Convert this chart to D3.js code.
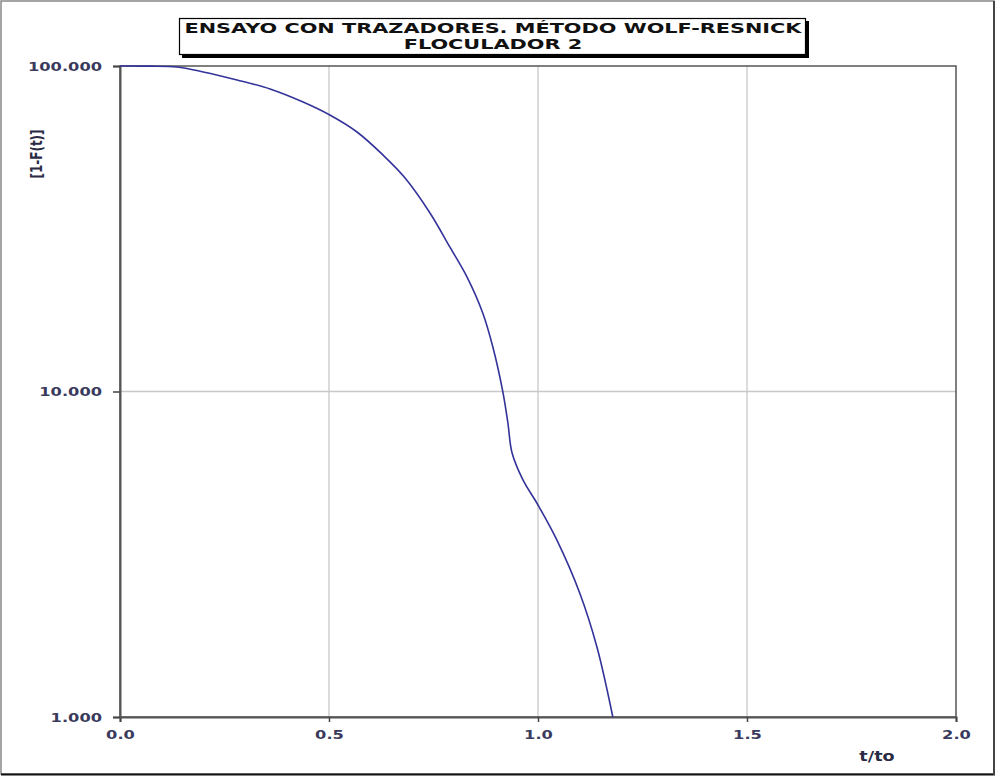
<!DOCTYPE html>
<html><head><meta charset="utf-8">
<script src="https://cdn.jsdelivr.net/npm/d3@7"></script>
<style>body{margin:0;background:#fff}svg{display:block}text{font-family:"DejaVu Sans",Verdana,sans-serif}</style>
</head><body>
<svg id="c" width="996" height="777"></svg>
<script>
const tValues = [0, 0.07, 0.136, 0.199, 0.28, 0.359, 0.438, 0.502, 0.567, 0.629, 0.682, 0.742, 0.789, 0.83, 0.868, 0.892, 0.916, 0.928, 0.938, 0.964, 1.0, 1.045, 1.10, 1.141, 1.179];
const fValues = [100, 99.9, 99.3, 95.9, 90.6, 85.0, 77.5, 70.7, 62.7, 53.3, 45.3, 35.3, 27.8, 22.5, 17.4, 13.7, 9.96, 8.0, 6.47, 5.35, 4.48, 3.50, 2.40, 1.64, 1.0];
const xTicks = [0, 0.5, 1.0, 1.5, 2.0];
const yTicks = [1, 10, 100];
const titleLines = ["ENSAYO CON TRAZADORES. MÉTODO WOLF-RESNICK", "FLOCULADOR 2"];
const xLabel = "t/to";
const yLabel = "[1-F(t)]";

const STRETCH = 1.3; // horizontal text stretch of the reference
function stretch(sel, k) {
  sel.each(function() {
    const len = this.getComputedTextLength();
    d3.select(this).attr("textLength", len * k).attr("lengthAdjust", "spacingAndGlyphs");
  });
}

const svg = d3.select("#c");
const L = 120, R = 956, T = 66, B = 717;
const x = d3.scaleLinear().domain([0, 2]).range([L, R]);
const y = d3.scaleLog().domain([1, 100]).range([B, T]);

// outer frame
svg.append("rect").attr("x",1).attr("y",1).attr("width",993).attr("height",773)
  .attr("fill","#fff").attr("stroke","#888").attr("stroke-width",1.5);
svg.append("line").attr("x1",1).attr("x2",995).attr("y1",774.5).attr("y2",774.5).attr("stroke","#111").attr("stroke-width",2);
svg.append("line").attr("x1",994).attr("x2",994).attr("y1",1).attr("y2",775).attr("stroke","#444").attr("stroke-width",2);

// grid
svg.append("g").selectAll("line").data(xTicks.slice(1,-1)).join("line")
  .attr("x1",d=>x(d)).attr("x2",d=>x(d)).attr("y1",T).attr("y2",B)
  .attr("stroke","#c8c8c8").attr("stroke-width",1.3);
svg.append("g").selectAll("line").data(yTicks.slice(1,-1)).join("line")
  .attr("x1",L).attr("x2",R).attr("y1",d=>y(d)).attr("y2",d=>y(d))
  .attr("stroke","#c8c8c8").attr("stroke-width",1.3);

// plot border
svg.append("rect").attr("x",L).attr("y",T).attr("width",R-L).attr("height",B-T)
  .attr("fill","none").attr("stroke","#555").attr("stroke-width",1.5);

// axes
const xAxis = d3.axisBottom(x).tickValues(xTicks).tickFormat(d3.format(".1f")).tickSize(5).tickPadding(8);
const gx = svg.append("g").attr("transform",`translate(0,${B})`).call(xAxis);
const yAxis = d3.axisLeft(y).tickValues(yTicks).tickFormat(d3.format(".3f")).tickSize(7).tickPadding(11);
const gy = svg.append("g").attr("transform",`translate(${L},0)`).call(yAxis);
[gx, gy].forEach(g => {
  g.select(".domain").attr("stroke","#555").attr("stroke-width",2);
  g.selectAll(".tick line").attr("stroke","#444").attr("stroke-width",1.5);
  g.selectAll(".tick text").attr("fill","#3a3a5c").attr("font-size",12.5).attr("font-weight","bold")
    .attr("font-family",'"DejaVu Sans",Verdana,sans-serif');
  stretch(g.selectAll(".tick text"), STRETCH);
});

// line
const data = tValues.map((t,i)=>({t, f: fValues[i]}));
svg.append("path").datum(data)
  .attr("d", d3.line().x(d=>x(d.t)).y(d=>y(d.f)).curve(d3.curveCatmullRom.alpha(0.5)))
  .attr("fill","none").attr("stroke","#33339a").attr("stroke-width",1.6);

// axis titles
const xl = svg.append("text").attr("x",877).attr("y",761).attr("text-anchor","middle")
  .attr("font-size",13.5).attr("font-weight","bold").attr("fill","#2a2a44").text(xLabel);
stretch(xl, STRETCH);
svg.append("text").attr("transform",`translate(42,154) scale(${STRETCH},1) rotate(-90)`).attr("text-anchor","middle")
  .attr("font-size",12).attr("font-weight","bold").attr("fill","#2a2a44").text(yLabel);

// title box with shadow
svg.append("rect").attr("x",182).attr("y",21).attr("width",627).attr("height",37).attr("fill","#000");
svg.append("rect").attr("x",179.5).attr("y",18.5).attr("width",626).attr("height",36)
  .attr("fill","#fff").attr("stroke","#000").attr("stroke-width",1.2);
const tt = svg.append("g").selectAll("text").data(titleLines).join("text")
  .attr("text-anchor","middle").attr("font-weight","bold")
  .attr("font-size",14.5).attr("fill","#111")
  .attr("x",493).attr("y",(d,i)=>33+i*16).text(d=>d);
const titleK = 617 / tt.node().getComputedTextLength();
stretch(tt, titleK);
</script>
</body></html>
